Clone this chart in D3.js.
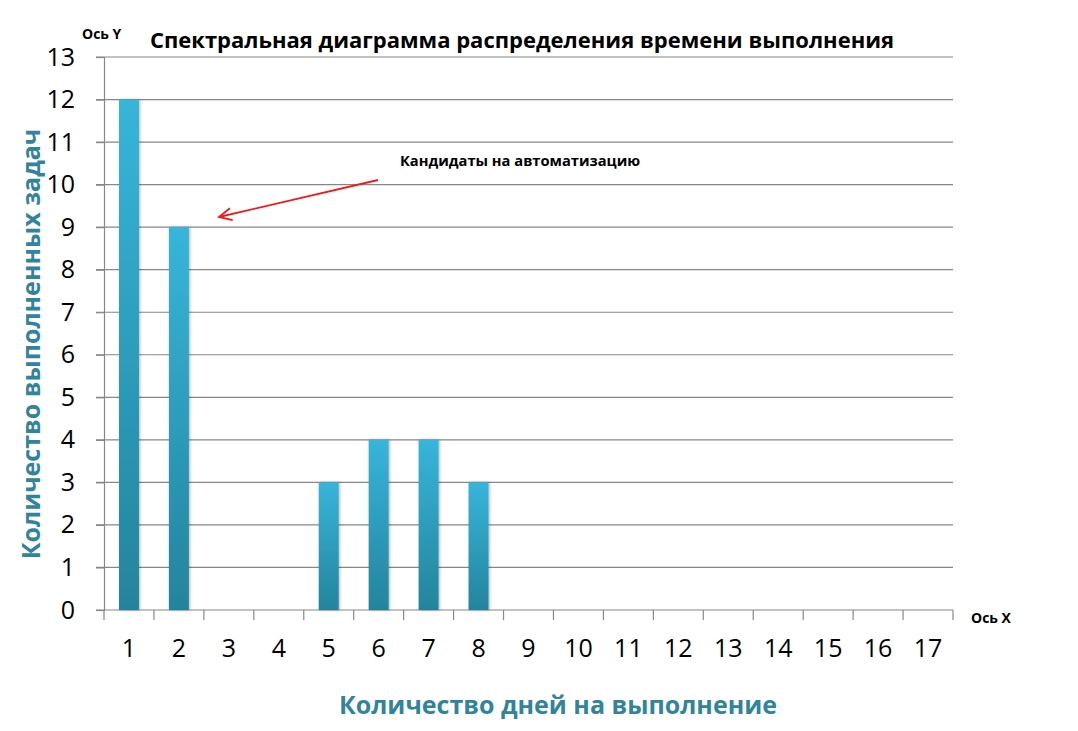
<!DOCTYPE html>
<html>
<head>
<meta charset="utf-8">
<script src="https://cdn.jsdelivr.net/npm/d3@7.9.0/dist/d3.min.js"></script>
<style>
  body { margin: 0; background: #fff; }
  svg text { font-family: "Open Sans", "Noto Sans", sans-serif; }
</style>
</head>
<body>
<svg id="chart" width="1078" height="731"></svg>
<script>
const days = d3.range(1, 18).map(String);
const tasks = [12, 9, 0, 0, 3, 4, 4, 3, 0, 0, 0, 0, 0, 0, 0, 0, 0];
const yTicks = d3.range(0, 14);

const svg = d3.select('#chart');
const plotLeft = 104, plotRight = 953, plotTop = 57, plotBottom = 610;

const x = d3.scaleBand().domain(days).range([plotLeft, plotRight]).paddingInner(0.6).paddingOuter(0.3);
const y = d3.scaleLinear().domain([0, 13]).range([plotBottom, plotTop]);

const defs = svg.append('defs');
const grad = defs.append('linearGradient')
  .attr('id', 'barGrad').attr('x1', 0).attr('y1', 0).attr('x2', 0).attr('y2', 1);
grad.append('stop').attr('offset', '0%').attr('stop-color', '#37b5da');
grad.append('stop').attr('offset', '100%').attr('stop-color', '#24849c');

const shadow = defs.append('filter').attr('id', 'shadow')
  .attr('x', '-50%').attr('y', '-10%').attr('width', '200%').attr('height', '120%');
shadow.append('feDropShadow').attr('dx', 1).attr('dy', 0).attr('stdDeviation', 1.5)
  .attr('flood-color', '#000').attr('flood-opacity', 0.3);

// gridlines
svg.append('g')
  .selectAll('line')
  .data(yTicks.filter(d => d > 0))
  .join('line')
  .attr('x1', plotLeft - 8).attr('x2', plotRight)
  .attr('y1', d => y(d)).attr('y2', d => y(d))
  .attr('stroke', '#878787').attr('stroke-width', 1.2);

// y axis
const yAxis = svg.append('g')
  .attr('transform', `translate(${plotLeft},0)`)
  .call(d3.axisLeft(y).tickValues(yTicks).tickSize(8).tickPadding(21));
yAxis.select('.domain').attr('stroke', '#878787').attr('stroke-width', 1.2);
yAxis.selectAll('.tick line').attr('stroke', '#878787').attr('stroke-width', 1.2);
yAxis.selectAll('text').attr('font-size', 25).attr('fill', '#000')
  .style('font-family', '"Open Sans", sans-serif');

// x axis
const xAxis = svg.append('g')
  .attr('transform', `translate(0,${plotBottom})`)
  .call(d3.axisBottom(x).tickSize(0).tickPadding(29));
xAxis.select('.domain').attr('stroke', '#878787').attr('stroke-width', 1.2)
  .attr('d', `M${plotLeft - 8},0H${plotRight}`);
xAxis.selectAll('text').attr('font-size', 25).attr('fill', '#000')
  .style('font-family', '"Open Sans", sans-serif');

// category boundary ticks
const edge = x.step() * x.paddingOuter();
const boundaries = days.map(d => x(d) - edge).concat([plotRight]);
svg.append('g')
  .selectAll('line')
  .data(boundaries)
  .join('line')
  .attr('x1', d => d).attr('x2', d => d)
  .attr('y1', plotBottom).attr('y2', plotBottom + 10)
  .attr('stroke', '#878787').attr('stroke-width', 1.2);

// bars
svg.append('g')
  .selectAll('rect')
  .data(days.map((d, i) => ({ day: d, value: tasks[i] })).filter(d => d.value > 0))
  .join('rect')
  .attr('x', d => x(d.day))
  .attr('y', d => y(d.value))
  .attr('width', x.bandwidth())
  .attr('height', d => y(0) - y(d.value))
  .attr('fill', 'url(#barGrad)')
  .attr('filter', 'url(#shadow)');

// titles
svg.append('text')
  .attr('x', 522).attr('y', 48)
  .attr('text-anchor', 'middle')
  .attr('font-size', 22).attr('font-weight', 'bold')
  .text('Спектральная диаграмма распределения времени выполнения');

svg.append('text')
  .attr('x', 82).attr('y', 39)
  .attr('font-size', 14).attr('font-weight', 'bold')
  .text('Ось Y');

svg.append('text')
  .attr('x', 971).attr('y', 623)
  .attr('font-size', 14).attr('font-weight', 'bold')
  .text('Ось X');

svg.append('text')
  .attr('x', 558).attr('y', 714)
  .attr('text-anchor', 'middle')
  .attr('font-size', 25).attr('font-weight', 'bold')
  .attr('fill', '#31849b')
  .text('Количество дней на выполнение');

svg.append('text')
  .attr('transform', 'translate(40,344) rotate(-90)')
  .attr('text-anchor', 'middle')
  .attr('font-size', 25).attr('font-weight', 'bold')
  .attr('fill', '#31849b')
  .text('Количество выполненных задач');

// annotation
svg.append('text')
  .attr('x', 400).attr('y', 166)
  .attr('font-size', 14.7).attr('font-weight', 'bold')
  .text('Кандидаты на автоматизацию');

const ax1 = 378, ay1 = 180, ax2 = 219, ay2 = 217;
const ang = Math.atan2(ay1 - ay2, ax1 - ax2);
const head = 14, spread = 0.45;
svg.append('line')
  .attr('x1', ax1).attr('y1', ay1).attr('x2', ax2).attr('y2', ay2)
  .attr('stroke', '#ee1c1c').attr('stroke-width', 1.8);
svg.append('path')
  .attr('d', `M${ax2 + head * Math.cos(ang + spread)},${ay2 + head * Math.sin(ang + spread)}L${ax2},${ay2}L${ax2 + head * Math.cos(ang - spread)},${ay2 + head * Math.sin(ang - spread)}`)
  .attr('fill', 'none').attr('stroke', '#ee1c1c').attr('stroke-width', 1.8);
</script>
</body>
</html>
